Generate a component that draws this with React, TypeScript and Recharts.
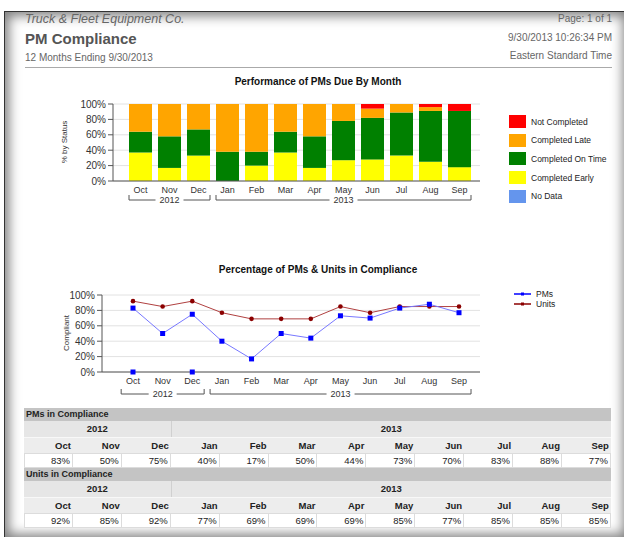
import React from "react";
import { BarChart, Bar, LineChart, Line, XAxis, YAxis, CartesianGrid } from "recharts";

const months = ["Oct", "Nov", "Dec", "Jan", "Feb", "Mar", "Apr", "May", "Jun", "Jul", "Aug", "Sep"];
const years = ["2012", "2012", "2012", "2013", "2013", "2013", "2013", "2013", "2013", "2013", "2013", "2013"];

// % of PMs by status (stacked, bottom to top)
const completedEarly = [37, 17, 33, 0, 20, 37, 17, 27, 28, 33, 25, 18];
const completedOnTime = [27, 41, 34, 38, 18, 27, 41, 51, 54, 56, 66, 73];
const completedLate = [36, 42, 33, 62, 62, 36, 42, 22, 12, 11, 5, 0];
const notCompleted = [0, 0, 0, 0, 0, 0, 0, 0, 6, 0, 4, 9];

const pmsCompliance = [83, 50, 75, 40, 17, 50, 44, 73, 70, 83, 88, 77];
const unitsCompliance = [92, 85, 92, 77, 69, 69, 69, 85, 77, 85, 85, 85];
const pmsZeroMarks = [0, null, 0, null, null, null, null, null, null, null, null, null];

const FONT = '"Liberation Sans", Arial, sans-serif';

const statusLegend = [
  { name: "Not Completed", color: "#ff0000" },
  { name: "Completed Late", color: "#ffa500" },
  { name: "Completed On Time", color: "#008000" },
  { name: "Completed Early", color: "#ffff00" },
  { name: "No Data", color: "#6495ed" },
];

const barData = months.map((m, i) => ({
  month: m,
  early: completedEarly[i],
  onTime: completedOnTime[i],
  late: completedLate[i],
  notDone: notCompleted[i],
}));

const lineData = months.map((m, i) => ({
  month: m,
  pms: pmsCompliance[i],
  units: unitsCompliance[i],
  zero: pmsZeroMarks[i],
}));

const pct = (v: number) => `${v}%`;

const YearTick = (props: any) => {
  const { x, y, index, band, lineDy } = props;
  const yr = years[index];
  if (index > 0 && years[index - 1] === yr) return <g />;
  let end = index;
  while (end + 1 < years.length && years[end + 1] === yr) end++;
  const x1 = x - band / 2 + 3;
  const x2 = x + (end - index) * band + band / 2 - 3;
  const cx = (x1 + x2) / 2;
  const ly = y + lineDy;
  const tw = 28;
  return (
    <g>
      <path
        d={`M${x1},${ly - 5}V${ly}H${cx - tw / 2}M${cx + tw / 2},${ly}H${x2}V${ly - 5}`}
        stroke="#555"
        fill="none"
      />
      <text x={cx} y={ly + 3} textAnchor="middle" fontSize={9} fill="#333" fontFamily={FONT}>
        {yr}
      </text>
    </g>
  );
};

const axisTick = { fontSize: 10, fill: "#333", fontFamily: FONT };
const monthTick = { fontSize: 9, fill: "#333", fontFamily: FONT };

const Section = ({ title, values }: { title: string; values: number[] }) => {
  const col = 100 / 12;
  return (
    <div>
      <div style={{ height: 13, lineHeight: "13px", background: "#c4c4c4", fontWeight: "bold", fontSize: 9, paddingLeft: 2, color: "#222" }}>
        {title}
      </div>
      <div style={{ display: "flex", height: 16, lineHeight: "16px", background: "#e6e6e6", fontWeight: "bold", fontSize: 9.5, color: "#222" }}>
        <div style={{ width: `${col * 3}%`, textAlign: "center" }}>2012</div>
        <div style={{ width: `${col * 9}%`, textAlign: "center", borderLeft: "1px solid #d0d0d0" }}>2013</div>
      </div>
      <div style={{ display: "flex", height: 15, lineHeight: "15px", background: "#ededed", fontWeight: "bold", fontSize: 9.5, color: "#222", borderTop: "1px solid #f8f8f8" }}>
        {months.map((m) => (
          <div key={m} style={{ width: `${col}%`, textAlign: "right", paddingRight: 2, boxSizing: "border-box" }}>{m}</div>
        ))}
      </div>
      <div style={{ display: "flex", height: 15, lineHeight: "14px", background: "#fff", fontSize: 9.5, color: "#222" }}>
        {values.map((v, i) => (
          <div key={i} style={{ width: `${col}%`, textAlign: "right", paddingRight: 2, boxSizing: "border-box", border: "1px solid #dcdcdc", borderLeftWidth: i === 0 ? 1 : 0 }}>
            {pct(v)}
          </div>
        ))}
      </div>
    </div>
  );
};

const abs = (left: number, top: number, extra: React.CSSProperties = {}): React.CSSProperties => ({
  position: "absolute",
  left,
  top,
  whiteSpace: "nowrap",
  ...extra,
});

export default function App() {
  return (
    <div style={{ position: "fixed", left: 0, top: 0, width: 624, height: 537, background: "#fff", fontFamily: FONT, overflow: "hidden" }}>
      <div
        style={{
          position: "absolute",
          left: 4,
          top: 11,
          width: 622,
          height: 526,
          background: "#fff",
          borderTop: "1px solid #333",
          borderLeft: "1px solid #333",
          boxShadow: "inset 0 0 12px 4px rgba(0,0,0,0.5)",
        }}
      />

      {/* header */}
      <div style={abs(25, 12, { fontSize: 12.5, fontStyle: "italic", color: "#666" })}>Truck &amp; Fleet Equipment Co.</div>
      <div style={abs(25, 30, { fontSize: 15, fontWeight: "bold", color: "#555" })}>PM Compliance</div>
      <div style={abs(25, 52, { fontSize: 10, color: "#666" })}>12 Months Ending 9/30/2013</div>
      <div style={abs(0, 13, { width: 612, textAlign: "right", fontSize: 10, color: "#666" })}>Page: 1 of 1</div>
      <div style={abs(0, 32, { width: 612, textAlign: "right", fontSize: 10, color: "#666" })}>9/30/2013 10:26:34 PM</div>
      <div style={abs(0, 50, { width: 612, textAlign: "right", fontSize: 10, color: "#666" })}>Eastern Standard Time</div>
      <div style={abs(25, 67, { width: 587, height: 1, background: "#aaa" })} />

      {/* bar chart */}
      <div style={abs(0, 76, { width: 636, textAlign: "center", fontSize: 10, fontWeight: "bold", color: "#111" })}>
        Performance of PMs Due By Month
      </div>
      <div style={abs(64, 142, { fontSize: 8, color: "#333", transform: "translate(-50%,-50%) rotate(-90deg)" })}>% by Status</div>
      <div style={abs(0, 70)}>
        <BarChart width={500} height={142} data={barData} margin={{ top: 34, right: 20, left: 73, bottom: 3 }} barSize={23}>
          <CartesianGrid vertical={false} stroke="#e2e2e2" />
          <XAxis xAxisId="m" dataKey="month" interval={0} height={12} tickLine={false} tickMargin={0} stroke="#555" tick={monthTick} padding={{ left: 13, right: 6 }} />
          <XAxis xAxisId="yr" dataKey="month" interval={0} height={16} axisLine={false} tickLine={false} tickSize={0} tickMargin={0} padding={{ left: 13, right: 6 }} tick={(p: any) => <YearTick {...p} band={29} lineDy={7} />} />
          <YAxis width={40} domain={[0, 100]} ticks={[0, 20, 40, 60, 80, 100]} interval={0} tickFormatter={pct} stroke="#555" tick={axisTick} tickSize={5} />
          <Bar xAxisId="m" dataKey="early" stackId="s" fill="#ffff00" isAnimationActive={false} />
          <Bar xAxisId="m" dataKey="onTime" stackId="s" fill="#008000" isAnimationActive={false} />
          <Bar xAxisId="m" dataKey="late" stackId="s" fill="#ffa500" isAnimationActive={false} />
          <Bar xAxisId="m" dataKey="notDone" stackId="s" fill="#ff0000" isAnimationActive={false} />
        </BarChart>
      </div>
      {statusLegend.map((s, i) => (
        <div key={s.name} style={abs(509, 115 + i * 18.7, { display: "flex", alignItems: "center", fontSize: 8.5, color: "#222" })}>
          <div style={{ width: 17, height: 13, background: s.color, marginRight: 5 }} />
          {s.name}
        </div>
      ))}

      {/* line chart */}
      <div style={abs(0, 264, { width: 636, textAlign: "center", fontSize: 10, fontWeight: "bold", color: "#111" })}>
        Percentage of PMs &amp; Units in Compliance
      </div>
      <div style={abs(66, 333, { fontSize: 8, color: "#333", transform: "translate(-50%,-50%) rotate(-90deg)" })}>Compliant</div>
      <div style={abs(0, 260)}>
        <LineChart width={500} height={144} data={lineData} margin={{ top: 35, right: 20, left: 62, bottom: 2 }}>
          <CartesianGrid vertical={false} stroke="#e2e2e2" />
          <XAxis xAxisId="m" dataKey="month" interval={0} height={12} tickLine={false} tickMargin={0} stroke="#555" tick={monthTick} padding={{ left: 31, right: 21 }} />
          <XAxis xAxisId="yr" dataKey="month" interval={0} height={18} axisLine={false} tickLine={false} tickSize={0} tickMargin={0} padding={{ left: 31, right: 21 }} tick={(p: any) => <YearTick {...p} band={29.66} lineDy={10} />} />
          <YAxis width={40} domain={[0, 100]} ticks={[0, 20, 40, 60, 80, 100]} interval={0} tickFormatter={pct} stroke="#555" tick={axisTick} tickSize={5} />
          <Line
            xAxisId="m"
            dataKey="units"
            stroke="#b04040"
            strokeWidth={1}
            isAnimationActive={false}
            dot={(p: any) => <circle key={`u${p.index}`} cx={p.cx} cy={p.cy} r={2.3} fill="#8b0000" />}
          />
          <Line
            xAxisId="m"
            dataKey="pms"
            stroke="#7878ff"
            strokeWidth={1}
            isAnimationActive={false}
            dot={(p: any) => <rect key={`p${p.index}`} x={p.cx - 2.5} y={p.cy - 2.5} width={5} height={5} fill="#0000ff" />}
          />
          <Line
            xAxisId="m"
            dataKey="zero"
            stroke="none"
            isAnimationActive={false}
            dot={(p: any) =>
              p.value == null || p.cy == null ? (
                <g key={`z${p.index}`} />
              ) : (
                <rect key={`z${p.index}`} x={p.cx - 2.5} y={p.cy - 2.5} width={5} height={5} fill="#0000ff" />
              )
            }
          />
        </LineChart>
      </div>
      {[
        { name: "PMs", color: "#0000ff" },
        { name: "Units", color: "#8b0000" },
      ].map((s, i) => (
        <div key={s.name} style={abs(514, 289 + i * 10, { display: "flex", alignItems: "center", fontSize: 8.5, color: "#222" })}>
          <svg width={18} height={10} style={{ marginRight: 4 }}>
            <line x1={0} y1={5} x2={17} y2={5} stroke={s.color} strokeWidth={1.5} />
            <rect x={7} y={3.5} width={3} height={3} fill={s.color} />
          </svg>
          {s.name}
        </div>
      ))}

      {/* tables */}
      <div style={abs(24, 408, { width: 587, fontFamily: FONT })}>
        <Section title="PMs in Compliance" values={pmsCompliance} />
        <Section title="Units in Compliance" values={unitsCompliance} />
      </div>
    </div>
  );
}
